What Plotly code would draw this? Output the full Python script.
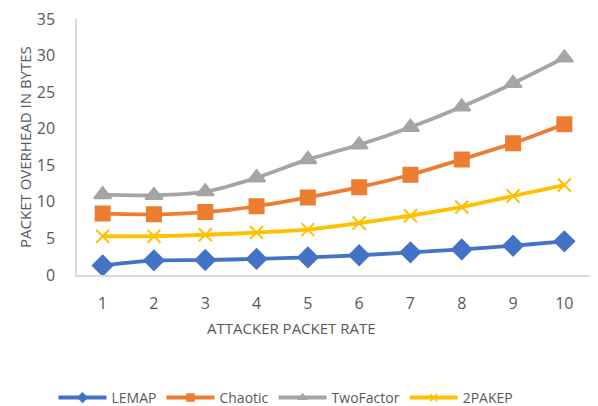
import plotly.graph_objects as go

rates = [1, 2, 3, 4, 5, 6, 7, 8, 9, 10]
lemap = [1.3, 2.0, 2.05, 2.2, 2.4, 2.7, 3.1, 3.5, 4.0, 4.6]
chaotic = [8.4, 8.3, 8.6, 9.4, 10.6, 12.0, 13.7, 15.8, 18.0, 20.6]
twofactor = [11.0, 10.9, 11.4, 13.3, 15.8, 17.8, 20.2, 23.0, 26.2, 29.7]
pakep = [5.3, 5.3, 5.5, 5.8, 6.2, 7.1, 8.1, 9.3, 10.8, 12.3]
y_ticks = [0, 5, 10, 15, 20, 25, 30, 35]

series = [
    ("LEMAP", lemap, "#4472C4", "diamond", 15),
    ("Chaotic", chaotic, "#ED7D31", "square", 14),
    ("TwoFactor", twofactor, "#A5A5A5", "triangle-up", 15),
    ("2PAKEP", pakep, "#FFC000", "x-thin", 13),
]

fig = go.Figure()
for name, vals, color, sym, size in series:
    fig.add_trace(go.Scatter(
        x=rates, y=vals, name=name, mode="lines+markers", showlegend=False,
        line=dict(color=color, width=3.8, shape="spline", smoothing=0.6),
        marker=dict(symbol=sym, size=size, color=color,
                    line=dict(color=color, width=2)),
    ))
# legend entries with small markers (as in the reference legend)
for name, vals, color, sym, size in series:
    fig.add_trace(go.Scatter(
        x=[None], y=[None], name=name, mode="lines+markers",
        line=dict(color=color, width=4),
        marker=dict(symbol=sym, size=7, color=color, line=dict(color=color, width=1.5)),
    ))

font_family = "Open Sans, Liberation Sans, sans-serif"
fig.update_layout(
    width=598, height=406,
    margin=dict(l=69, r=16, t=11, b=139, autoexpand=False),
    paper_bgcolor="white", plot_bgcolor="white",
    font=dict(family=font_family, color="#595959"),
    showlegend=True,
    legend=dict(orientation="h", x=(286 - 77) / 513, xanchor="center",
                y=-(398 - 275) / 256, yanchor="middle",
                font=dict(size=14, color="#595959"), itemwidth=48,
                traceorder="normal"),
    xaxis=dict(
        range=[0.5, 10.5], tickmode="array", tickvals=rates,
        ticktext=[str(r) for r in rates], automargin=False,
        showgrid=False, zeroline=False,
        showline=True, linecolor="#D9D9D9", linewidth=1.5,
        tickfont=dict(size=16, color="#595959"), ticks="", ticklabelstandoff=13,
        ticklabeloverflow="allow",
    ),
    yaxis=dict(
        range=[0, 35], tickmode="array", tickvals=y_ticks, automargin=False,
        showgrid=False, zeroline=False,
        showline=True, linecolor="#D9D9D9", linewidth=1.5,
        tickfont=dict(size=16, color="#595959"), ticks="", ticklabelstandoff=17,
        ticklabeloverflow="allow",
    ),
    annotations=[
        dict(text="ATTACKER PACKET RATE", xref="paper", yref="paper",
             x=(291 - 77) / 513, y=-(328 - 275) / 256, xanchor="center", yanchor="middle",
             showarrow=False, font=dict(size=15, color="#595959")),
        dict(text="PACKET OVERHEAD IN BYTES", xref="paper", yref="paper",
             x=(25 - 77) / 513, y=0.5, xanchor="center", yanchor="middle", textangle=-90,
             showarrow=False, font=dict(size=15, color="#595959")),
    ],
)

fig.write_html("out.html")
